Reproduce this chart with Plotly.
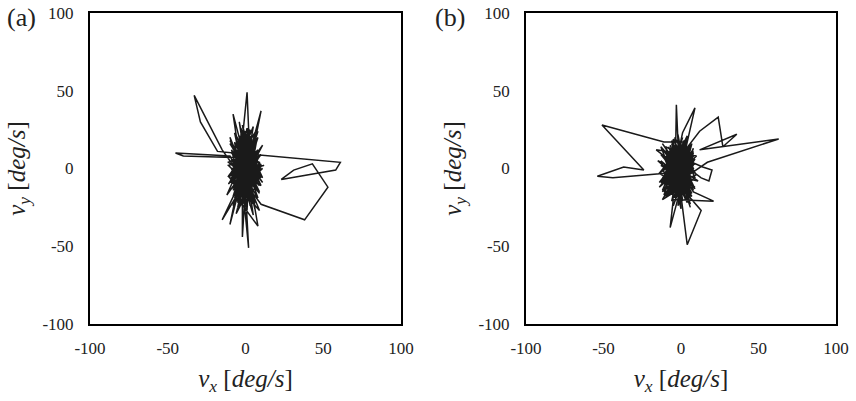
import plotly.graph_objects as go

# Panel (a) trajectory: vx, vy [deg/s]
ax = [0, 3, -4, 5, -2, 6, -6, 2, -3, 4,
      -7, 1, 7, -5, 3, -1, 8, -8, 2, -4,
      5, -2, 6, -6, 0, 4, -3, 9, -9, 1,
      3, -5, 7, -1, -7, 5, -2, 8, -4, 2,
      -18, -29, -33, -15, -3, 6, -6, 1, 3, -5,
      4, -3, 10, 2, -8, -4, 5, -1, 7, -6,
      3, -2, 6, -9, 0, 4, -5, 8, -3, 2,
      -10, -45, -40, -8, 5, 61, 58, 23, 31, 43,
      53, 38, 10, -2, 5, -7, 3, -4, 6, -1,
      2, -2, -2, 1, -10, -5, -15, -6, 8, 3,
      -3, 7, -8, 4, -1, 5, -6, 2, -4, 9,
      -2, 6, -7, 1, 3, -5, 8, -3, 4, -8,
      0, 5, -4, 7, -1, 2, -6, 3, -2, 6,
      -5, 1, 8, -9, 4, -3, 5, -7, 2, -1,
      3, -4, 6, -2, 7, -6, 1, 4, -3, 0,
      12, -11, 9, -10, 5, -4, 2, 11, -12, 0,
      8, -7, 3, -5, 6, -2, 4, -8, 1, 7,
      -6, 4, -9, 7, -2, 10, -7, 2, -10, 5,
      8, -4, 0, -11, 6, -5, 3, 10, -8, 1,
      -3, 9, -7, 0, 5, -10, 8, -2, -5, 7,
      3, -9, 11, -4, 0, -7, 9, -10, 2, 5,
      -1, 8, -5, 6, -11, 3, 0, 10, -3, -8,
      4, -7, 1, 11, -5, 8, -9, 0, 3, -2,
      7, -4, 9, -8, 2, -6, 5, -11, 8, 0,
      -7, 3, -2, 10, -9, 6, -4, 1, -8, 5,
      11, -5, 0, 8, -6, 3, -10, 7, -1, 9,
      -3, 2, -8, 5, -5, 8, 0, -11, 4, -7,
      10, -2, 6, -9, 2, -4, 8, -6, 5, 0,
      -5, 10, -8, 3, -2, 7, -9, 5, 0, -3]
ay = [0, 12, -8, 18, -15, 5, 10, -20, 22, -6,
      3, 15, -12, -22, 25, -4, 8, -10, 19, -18,
      2, 28, -24, 6, -12, 14, -2, -16, 12, -27,
      21, -6, 11, -19, 17, -9, 4, 24, -14, 9,
      11, 30, 47, 12, -5, 16, -20, 49, 2, -25,
      20, -11, 37, -3, 35, 8, -17, 13, -4, -29,
      7, -16, 23, -3, 18, -21, 15, -8, 26, -13,
      8, 10, 8, 7, 9, 4, -1, -7, -1, 3,
      -12, -33, -23, -7, 12, -15, 1, 21, -26, 5,
      -51, -10, -44, 6, -36, -12, -33, -18, -37, -8,
      14, -2, -24, 19, -9, 27, 0, -17, 10, 4,
      -23, 13, -7, 22, -14, 18, -19, -1, 11, -13,
      24, -10, 3, 17, -26, 6, -17, 16, -6, -22,
      9, -2, 20, -9, -15, 12, 1, 23, -20, 7,
      -24, 17, -5, -14, 9, -3, 26, -11, 5, 0,
      2, -5, -27, 20, -30, 30, -2, 15, -17, 10,
      -14, 12, -6, -27, 21, 0, -18, 15, -8, 3,
      5, -3, 10, -8, 14, 2, -12, 7, -5, 17,
      -1, -15, 9, 4, -10, 13, -6, 1, -18, 11,
      -4, 8, -13, 16, 3, -7, 12, -2, -16, 6,
      15, -9, 0, -14, 10, 5, -11, 18, -3, -8,
      13, -1, -17, 7, 2, -12, 9, -6, 16, -4,
      11, -19, 4, -9, 14, -2, 6, -13, 1, 19,
      -7, 12, -15, 3, 8, -10, 17, -5, 0, -16,
      10, -3, 15, -11, 5, -8, 20, -1, -14, 7,
      -6, 13, -18, 2, 9, -4, 16, -12, 4, -9,
      18, -2, -7, 11, -15, 6, 1, -10, 14, -5,
      3, -17, 8, -1, 12, -13, 5, -8, 17, 0,
      -11, 9, -4, 15, -19, 6, -2, 10, -7, 2]

# Panel (b) trajectory
bx = [-2, 3, -8, 5, -5, 1, -10, 6, -3, 2,
      -12, 7, -6, 0, -9, 4, -1, 8, -7, 3,
      -11, -51, -24, -37, -54, -44, -10, 5, -4, -3,
      -1, 9, 1, -6, 2, -8, 12, 24, 27, 36,
      12, 63, 17, -2, 6, -9, 14, 20, 18, 13,
      -3, 4, 13, 0, -7, -5, 21, 8, -4, -14,
      5, -2, 8, -11, 1, -6, 9, -13, 3, -4,
      6, -9, 2, -1, 7, -10, 4, -5, 0, -8,
      5, -3, 10, -12, 2, -6, 8, -1, -15, 3,
      -7, 6, -2, 9, -11, 1, -4, 7, -9, 0,
      5, -13, 2, -5, 8, -3, 4, -8, 11, -6,
      1, -10, 6, -2, 3, -14, 7, -4, 0, -7,
      9, -1, 4, -12, 2, -5, 6, -3, -16, 10,
      -8, 1, -2, 5, -9, 3, -6, 8, -2,
      -6, 2, -11, 5, -2, -9, 7, -4, -13, 3,
      -7, 0, 6, -12, -3, 8, -10, 1, -6, 4,
      -14, -1, 7, -8, 3, -5, -11, 6, 0, -7,
      9, -3, -12, 2, -6, 5, -10, 7, -1, -13,
      3, -8, 0, -4, 8, -11, 1, -7, 6, -3,
      -12, 4, -6, 0, -10, 7, -2, -9, 3, -14,
      6, -4, 1, -11, 8, -7, -3, 4, -12, 0,
      -5, 7, -9, 3, -1, -13, 5, -4, 9, -10,
      2, -7, 4, -3, -11, 8, 0, -6, 3, -12,
      7, -2, -9, 5, -4, 1, -10, 4, -7, 0,
      -3, 8, -11, 3, -6, -1, 7, -13, 4, -8,
      0, -5, 6, -10, 2, -3, 8, -7, -1, 3]
by = [0, 10, -12, -4, 15, -20, 5, 12, -17, 3,
      -6, -10, 18, -8, 8, -22, 14, 0, -14, 17,
      17, 28, -1, 1, -5, -6, -3, 8, -19, 41,
      -5, 39, 23, -10, 16, -2, 24, 33, 14, 22,
      12, 19, 4, -9, -16, 11, 1, -1, -8, -6,
      6, -49, -27, -12, -38, -20, -21, -15, 4, -9,
      14, -24, 5, -17, 20, -6, -12, 2, -3, 12,
      -19, -1, 9, -15, 16, -11, 1, 19, -26, 7,
      -7, 13, -4, -14, 18, -21, 10, -2, 5, -11,
      15, -23, 6, 3, -8, -17, 20, -1, -18, 11,
      -13, 9, -5, -24, 13, -9, 21, -4, -8, 3,
      -21, 14, 6, -13, 15, -3, -18, 0, 8, -16,
      -6, 17, -10, -20, 4, 10, -25, 2, 12, 8,
      -9, -1, 22, -14, 6, -20, 16, -3, 0,
      4, -6, 11, -2, -13, 7, 1, -9, 14, -4,
      8, -15, 3, -7, 12, -1, -11, 6, -17, 9,
      -3, 13, -8, 2, -14, 10, -5, 15, -10, 0,
      6, -12, -1, 16, -6, 4, -16, 11, -2, -9,
      13, -4, 7, -13, 2, -7, 15, -11, 5, -1,
      -15, 10, -3, 8, -18, 1, 12, -8, 3, -12,
      14, -5, 0, -10, 9, -14, 4, -6, 16, -2,
      -11, 7, -16, 12, -4, 2, -9, 14, -13, 5,
      -1, 11, -7, 3, -15, 8, -5, 13, 0, -10,
      6, -17, 10, -3, 15, -8, 1, -12, 7, -4,
      12, -14, 2, -6, 9, -1, -16, 5, -9, 14,
      -7, 3, -11, 8, -2, -13, 11, -5, 0, -3]

ticks = [-100, -50, 0, 50, 100]
tick_text = ["-100", "-50", "0", "50", "100"]
panel_labels = ["(a)", "(b)"]

FONT = "Liberation Serif, Times New Roman, Tinos, serif"
line_col = "#1a1a1a"

fig = go.Figure()
fig.add_trace(go.Scatter(x=ax, y=ay, mode="lines", line=dict(color=line_col, width=1.5),
                         xaxis="x", yaxis="y", showlegend=False))
fig.add_trace(go.Scatter(x=bx, y=by, mode="lines", line=dict(color=line_col, width=1.5),
                         xaxis="x2", yaxis="y2", showlegend=False))

axis_common = dict(range=[-100, 100], tickvals=ticks, ticktext=tick_text,
                   showgrid=False, zeroline=False, showline=True, linecolor="black",
                   linewidth=2, mirror=True, ticks="", automargin=False,
                   tickfont=dict(family=FONT, size=17, color="#222"))

xt = "<i>v</i><sub><i>x</i></sub> [<i>deg/s</i>]"
yt = "<i>v</i><sub><i>y</i></sub> [<i>deg/s</i>]"
tfont = dict(family=FONT, size=25, color="#222")

fig.update_layout(
    width=856, height=401,
    margin=dict(l=90, r=20, t=13, b=77),
    plot_bgcolor="white", paper_bgcolor="white",
    font=dict(family=FONT),
    xaxis=dict(domain=[0, 0.4169], anchor="y", ticklabelstandoff=8,
               title=dict(text=xt, font=tfont, standoff=12), **axis_common),
    yaxis=dict(domain=[0, 1], anchor="x", ticklabelstandoff=11,
               title=dict(text=yt, font=tfont, standoff=10), **axis_common),
    xaxis2=dict(domain=[0.5845, 1], anchor="y2", ticklabelstandoff=8,
                title=dict(text=xt, font=tfont, standoff=12), **axis_common),
    yaxis2=dict(domain=[0, 1], anchor="x2", ticklabelstandoff=11,
                title=dict(text=yt, font=tfont, standoff=10), **axis_common),
)

fig.add_annotation(text=panel_labels[0], xref="paper", yref="paper", x=-0.114, y=0.987,
                   xanchor="left", yanchor="middle", showarrow=False,
                   font=dict(family=FONT, size=26, color="#222"))
fig.add_annotation(text=panel_labels[1], xref="paper", yref="paper", x=0.4598, y=0.987,
                   xanchor="left", yanchor="middle", showarrow=False,
                   font=dict(family=FONT, size=26, color="#222"))

fig.write_html("out.html")
